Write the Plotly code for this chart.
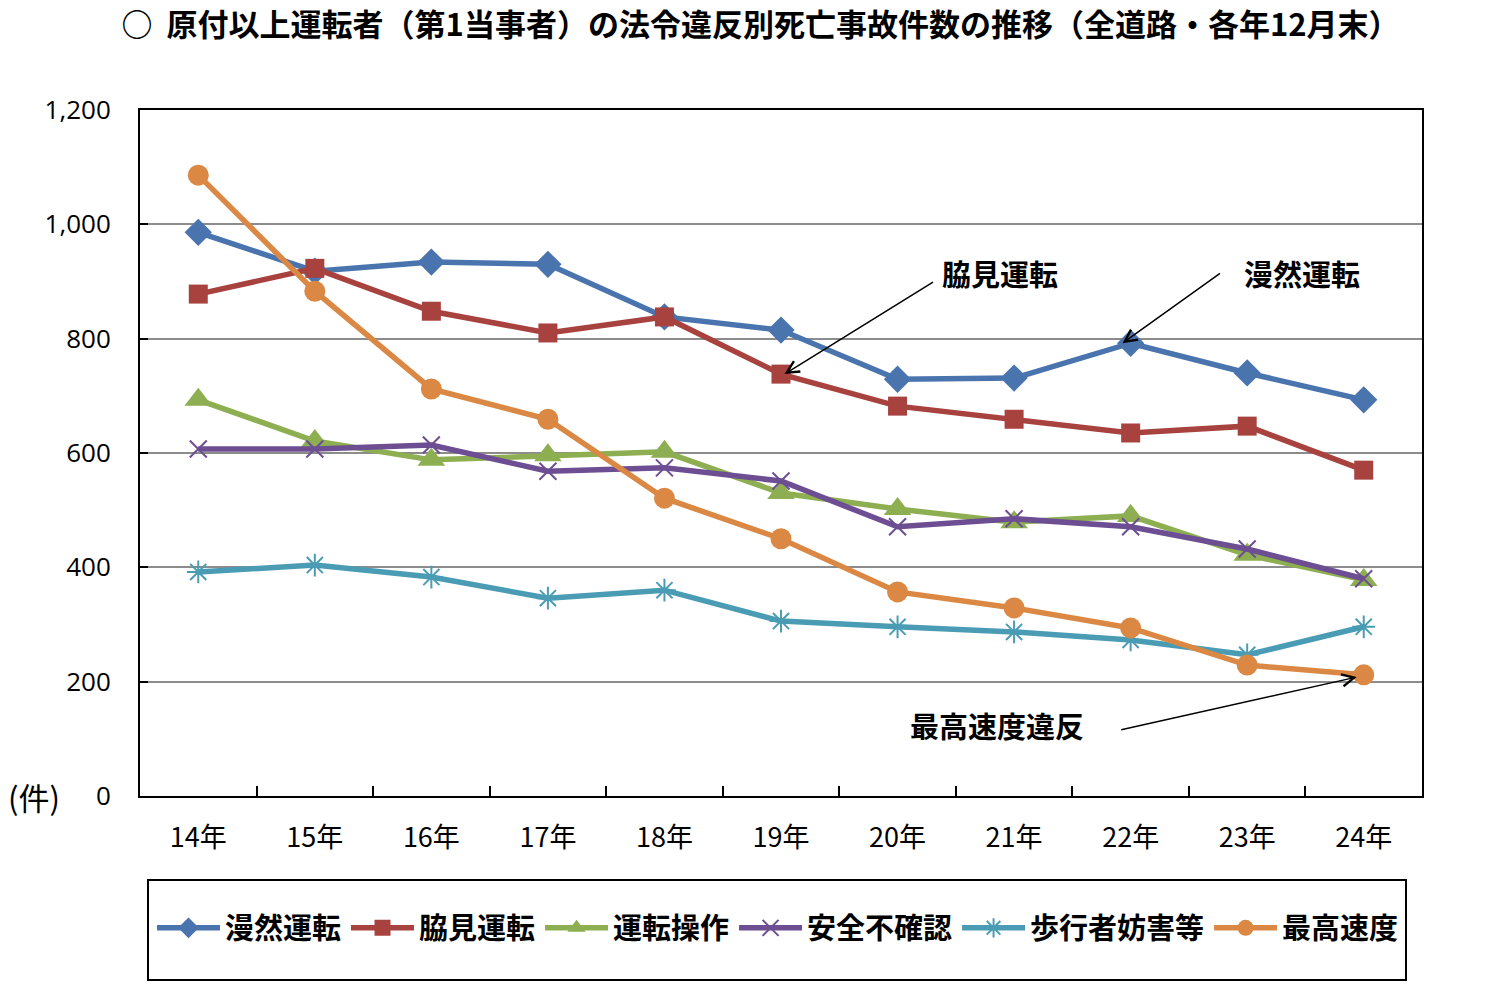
import plotly.graph_objects as go

years = ["14年", "15年", "16年", "17年", "18年", "19年", "20年", "21年", "22年", "23年", "24年"]

manzen = [986, 918, 934, 930, 838, 815, 729, 731, 792, 740, 693]
wakimi = [878, 923, 848, 810, 838, 738, 682, 659, 635, 647, 570]
unten_sosa = [693, 621, 588, 596, 602, 530, 502, 479, 490, 422, 378]
anzen = [607, 607, 614, 568, 574, 551, 471, 485, 471, 432, 380]
hokosha = [392, 404, 383, 346, 360, 306, 296, 287, 273, 247, 296]
saiko = [1086, 883, 712, 659, 521, 450, 357, 329, 294, 229, 212]

series_names = ["漫然運転", "脇見運転", "運転操作", "安全不確認", "歩行者妨害等", "最高速度"]
series_values = [manzen, wakimi, unten_sosa, anzen, hokosha, saiko]
colors = ["#4A74AE", "#A8423F", "#8DAF52", "#6D4E93", "#4A9CB4", "#DA8843"]
symbols = ["diamond", "square", "triangle-up", "x-thin-open", "asterisk-open", "circle"]
sizes = [21, 19, 24, 17, 19, 21]

JP = "Noto Sans CJK JP"

fig = go.Figure()
for name, vals, c, s, sz in zip(series_names, series_values, colors, symbols, sizes):
    open_sym = s.endswith("open")
    fig.add_trace(go.Scatter(
        x=years, y=vals, name=name, mode="lines+markers",
        line=dict(color=c, width=5.5),
        marker=dict(symbol=s, size=sz, color=c,
                    line=dict(color=c, width=2 if open_sym else 0)),
    ))

arrow_common = dict(showarrow=True, arrowhead=5, arrowsize=1.6, arrowwidth=1.5,
                    arrowcolor="black", text="", xref="x", yref="y")
fig.add_annotation(x=5.03, y=738, ax=150, ay=-93, **arrow_common)
fig.add_annotation(x=7.93, y=792, ax=99, ay=-71, **arrow_common)
fig.add_annotation(x=9.94, y=208, ax=-237, ay=53, **arrow_common)

label_font = dict(family=JP, size=29, color="black")
fig.add_annotation(x=6.88, y=915, text="<b>脇見運転</b>", showarrow=False, font=label_font, xref="x", yref="y")
fig.add_annotation(x=9.47, y=915, text="<b>漫然運転</b>", showarrow=False, font=label_font, xref="x", yref="y")
fig.add_annotation(x=6.85, y=124, text="<b>最高速度違反</b>", showarrow=False, font=label_font, xref="x", yref="y")

fig.add_annotation(x=-0.061, y=0, xref="paper", yref="paper", text="(件)", showarrow=False,
                   xanchor="right", yanchor="middle", font=dict(family=JP, size=31, color="black"))

# legend box
fig.add_shape(type="rect", xref="paper", yref="paper",
              x0=(148 - 140) / 1282, x1=(1406 - 140) / 1282,
              y0=-(980 - 796) / 686, y1=-(880 - 796) / 686,
              line=dict(color="black", width=2), fillcolor="rgba(0,0,0,0)")

fig.update_layout(
    width=1500, height=1000,
    margin=dict(l=140, r=78, t=110, b=204),
    paper_bgcolor="white", plot_bgcolor="white",
    title=dict(text="<b>○  原付以上運転者（第1当事者）の法令違反別死亡事故件数の推移（全道路・各年12月末）</b>",
               x=0.507, xanchor="center", y=0.975, yanchor="middle",
               font=dict(family=JP, size=31, color="black")),
    showlegend=True,
    legend=dict(orientation="h", x=(152 - 140) / 1282, xanchor="left",
                y=-(928 - 796) / 686, yanchor="middle",
                font=dict(family=JP, size=29, color="black", weight="bold"),
                itemwidth=63, bgcolor="rgba(0,0,0,0)", borderwidth=0,
                traceorder="normal", tracegroupgap=0),
    font=dict(family=JP, color="black"),
)

fig.update_xaxes(
    type="category", range=[-0.5, 10.5], showline=True, linecolor="black", linewidth=2, mirror=True,
    ticks="inside", tickson="boundaries", ticklen=10, tickcolor="black", tickwidth=2,
    showgrid=False, tickfont=dict(family=JP, size=27, color="black"),
    ticklabelstandoff=17,
)
fig.update_yaxes(
    range=[0, 1200], dtick=200, tickformat=",",
    showline=True, linecolor="black", linewidth=2, mirror=True,
    ticks="inside", ticklen=8, tickcolor="black", tickwidth=2,
    showgrid=True, gridcolor="#8c8c8c", gridwidth=1.5,
    tickfont=dict(family="Open Sans", size=26, color="black"),
    ticklabelstandoff=22, zeroline=False,
)

fig.write_html("out.html")
